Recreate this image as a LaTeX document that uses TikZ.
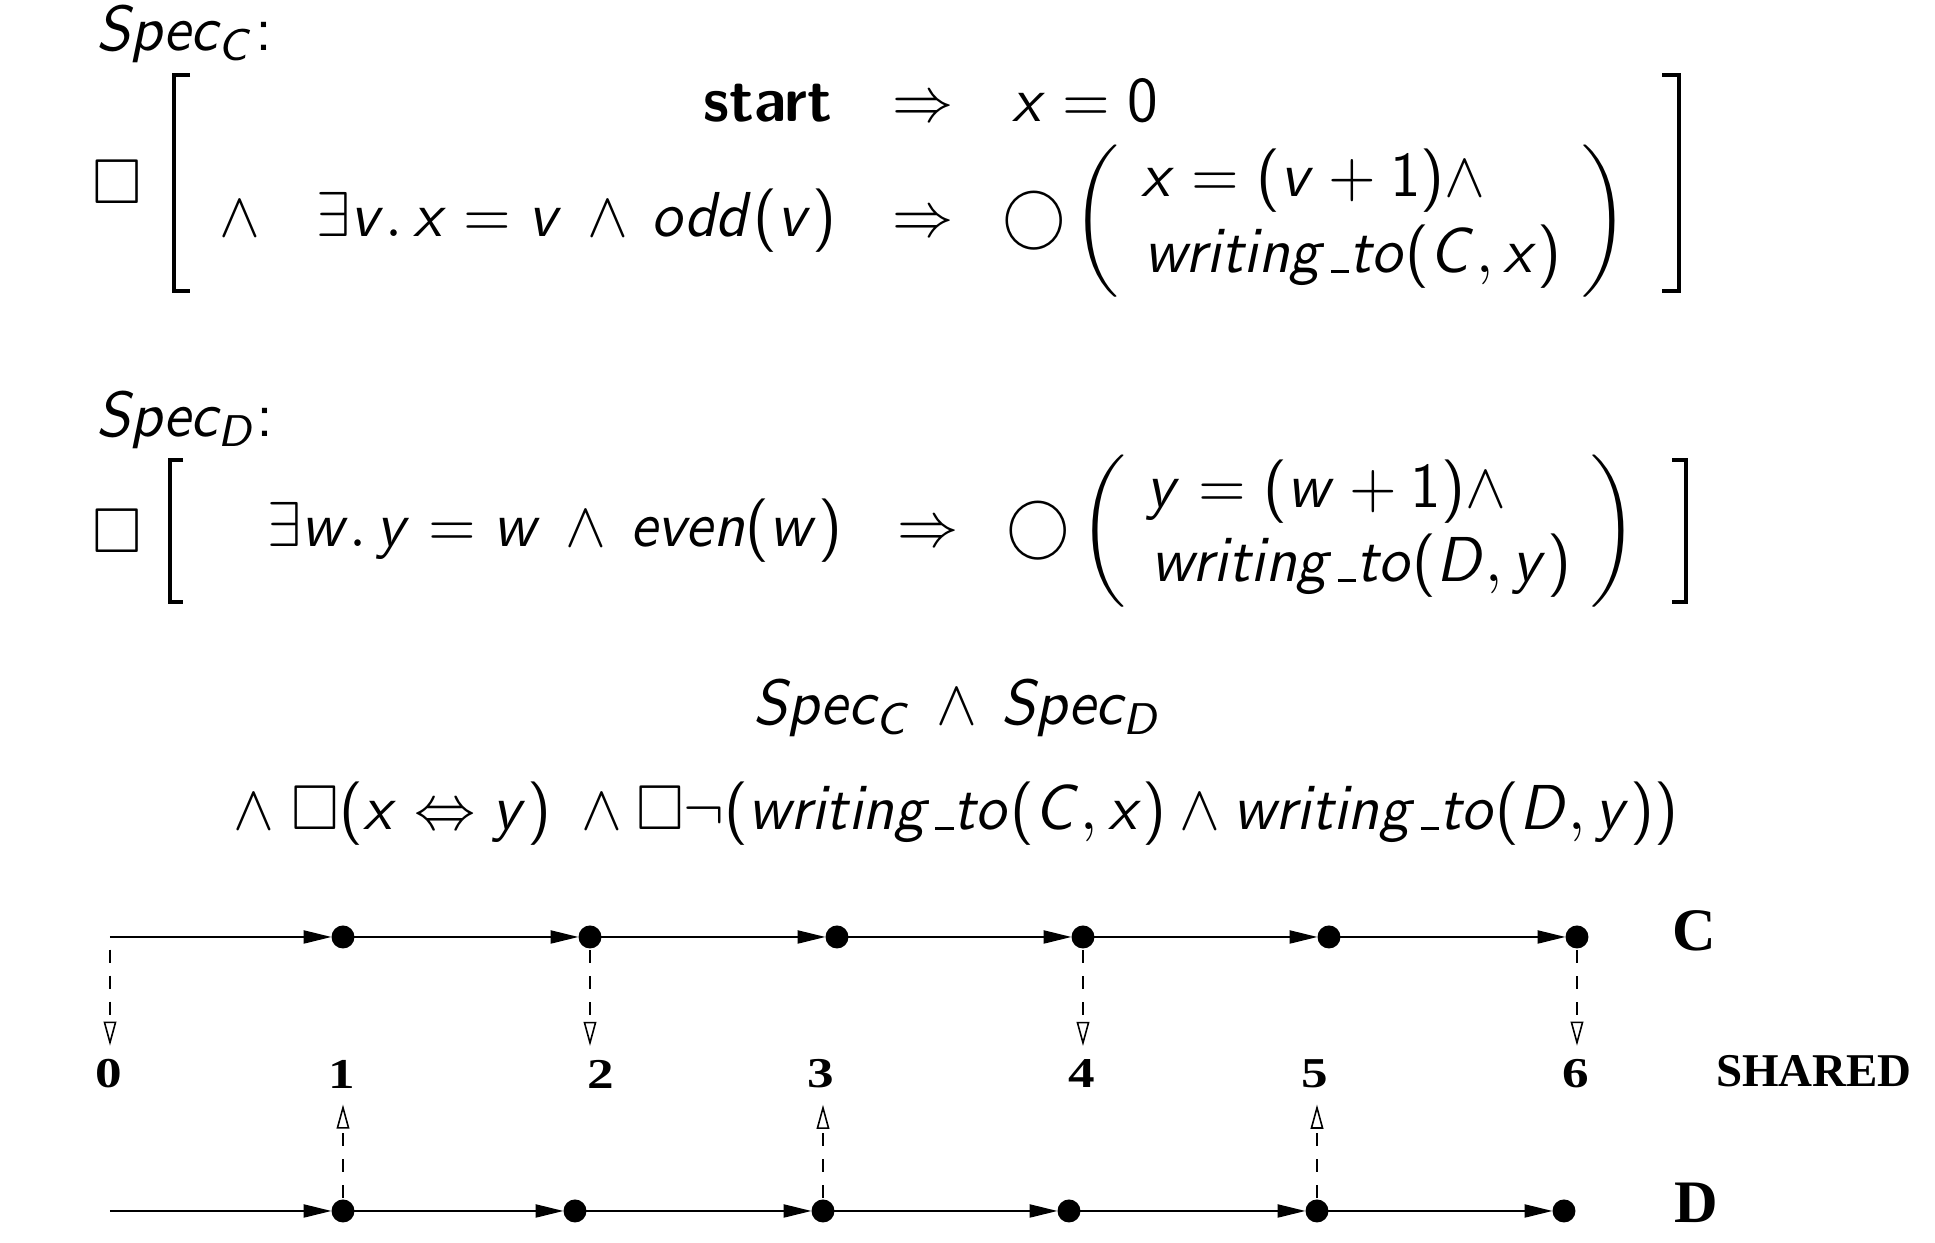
\documentclass[tikz,border=0pt]{standalone}
\usepackage{amsmath,amssymb}
\usepackage{graphicx}
\usepackage[no-math]{fontspec}
\newfontfamily\figfont{Liberation Serif}
\usetikzlibrary{arrows.meta}
% sans-serif maths, as in the reference
\SetSymbolFont{operators}{normal}{OT1}{cmss}{m}{n}
\DeclareSymbolFont{sfletters}{OT1}{cmss}{m}{sl}
\def\sfl#1{\DeclareMathSymbol{#1}{\mathalpha}{sfletters}{`#1}}
\sfl a\sfl b\sfl c\sfl d\sfl e\sfl f\sfl g\sfl h\sfl i\sfl j\sfl k\sfl l\sfl m
\sfl n\sfl o\sfl p\sfl q\sfl r\sfl s\sfl t\sfl u\sfl v\sfl w\sfl x\sfl y\sfl z
\sfl C\sfl D\sfl S
\newcommand\usc{\mbox{\kern.06em\vbox{\hrule width.3em}}}
\newcommand\wand{\,\wedge\,}
\newcommand\hs[1]{\scalebox{0.965}[1]{#1}}
\begin{document}
\begin{tikzpicture}[x=0.1575pt,y=-0.1575pt,
  every node/.style={inner sep=0pt,outer sep=0pt,font=\fontsize{10}{12}\selectfont},
  txt/.style={anchor=base west},
  txtr/.style={anchor=base east},
  txtc/.style={anchor=base},
  brk/.style={line width=0.7pt,line join=miter},
  dot/.style={circle,fill=black,minimum size=3.62pt},
  flow/.style={line width=0.32pt,-{Triangle[length=4.4pt,width=2.05pt]}},
  dasharrow/.style={line width=0.3pt,dash pattern=on 2.05pt off 2.05pt,
    -{Triangle[open,length=3.8pt,width=2pt,line width=0.25pt]}},
  lblbig/.style={font=\figfont\bfseries\fontsize{9.5}{11}\selectfont},
  lblmid/.style={font=\figfont\bfseries\fontsize{7.4}{9}\selectfont},
  num/.style={font=\figfont\bfseries\fontsize{6.7}{8}\selectfont},
]
\useasboundingbox (0,0) rectangle (1935,1243);

% ---------- Spec_C ----------
\node[txt] (specC) at (96,51) {\hs{$Spec_C$\textsf{:}}};
\node (boxC) at (117.5,182.5) {$\Box$};
\draw[brk] (190,75) -- (174,75) -- (174,291) -- (190,291);
\node[txtr] (startC) at (832,122) {\hs{\textsf{\bfseries start}}};
\node[txtc] (impC1) at (923,122) {\hs{$\Rightarrow$}};
\node[txt] (initC) at (1012,122) {\hs{$x = 0$}};
\node[txt] (andC) at (220,237) {\hs{$\wedge$}};
\node[txtr] (guardC) at (836,237) {\hs{$\exists v.\,x = v \wand odd(v)$}};
\node[txtc] (impC2) at (923,237) {\hs{$\Rightarrow$}};
\node[txtc] (nextC) at (1034,237) {$\bigcirc$};
\node[txtc] (lpC) at (1096,237) {$\biggl($};
\node[txt] (effC1) at (1141,197) {\hs{$x = (v+1) \wedge$}};
\node[txt] (effC2) at (1144,273) {\hs{$writing\usc to(C,x)$}};
\node[txtc] (rpC) at (1605,237) {$\biggr)$};
\draw[brk] (1662,75) -- (1679,75) -- (1679,291) -- (1662,291);

% ---------- Spec_D ----------
\node[txt] (specD) at (96,437) {\hs{$Spec_D$\textsf{:}}};
\node (boxD) at (117.5,531.5) {$\Box$};
\draw[brk] (183,460) -- (170,460) -- (170,602) -- (183,602);
\node[txtr] (guardD) at (842,547) {\hs{$\exists w.\,y = w \wand even(w)$}};
\node[txtc] (impD) at (928,547) {\hs{$\Rightarrow$}};
\node[txtc] (nextD) at (1038,547) {$\bigcirc$};
\node[txtc] (lpD) at (1103,547) {$\biggl($};
\node[txt] (effD1) at (1147,508) {\hs{$y = (w+1) \wedge$}};
\node[txt] (effD2) at (1151,582) {\hs{$writing\usc to(D,y)$}};
\node[txtc] (rpD) at (1614,547) {$\biggr)$};
\draw[brk] (1672,460) -- (1686,460) -- (1686,602) -- (1672,602);

% ---------- conjunction ----------
\node[txtc] (conj) at (958,725) {\hs{$Spec_C \wand Spec_D$}};
\node[txt] (constr) at (234,830) {\hs{$\wedge\;\Box(x \Leftrightarrow y) \;\wedge \Box\neg(writing\usc to(C,x) \wedge writing\usc to(D,y))$}};

% ---------- timelines ----------
\coordinate (c0) at (110,937);
\node[dot] (c1) at (343,937) {};
\node[dot] (c2) at (590,937) {};
\node[dot] (c3) at (837,937) {};
\node[dot] (c4) at (1083,937) {};
\node[dot] (c5) at (1329,937) {};
\node[dot] (c6) at (1577,937) {};
\coordinate (d0) at (110,1211);
\node[dot] (d1) at (343,1211) {};
\node[dot] (d2) at (575,1211) {};
\node[dot] (d3) at (823,1211) {};
\node[dot] (d4) at (1069,1211) {};
\node[dot] (d5) at (1317,1211) {};
\node[dot] (d6) at (1564,1211) {};

\node[num] (s0) at (109,1074) {\scalebox{1.25}[1]{0}};
\node[num] (s1) at (342,1074) {\scalebox{1.25}[1]{1}};
\node[num] (s2) at (601,1074) {\scalebox{1.25}[1]{2}};
\node[num] (s3) at (821,1074) {\scalebox{1.25}[1]{3}};
\node[num] (s4) at (1082,1074) {\scalebox{1.25}[1]{4}};
\node[num] (s5) at (1315,1074) {\scalebox{1.25}[1]{5}};
\node[num] (s6) at (1576,1074) {\scalebox{1.25}[1]{6}};

\node[lblbig] (labC) at (1694,931) {C};
\node[lblbig] (labD) at (1696,1203) {D};
\node[lblmid] (labS) at (1814,1071) {SHARED};

\foreach \a/\b in {c0/c1,c1/c2,c2/c3,c3/c4,c4/c5,c5/c6,d0/d1,d1/d2,d2/d3,d3/d4,d4/d5,d5/d6}
  \draw[flow] (\a) -- (\b);

\draw[dasharrow,shorten <=2pt,shorten >=2.2pt] (c0) -- (c0 |- s0.north);
\foreach \n in {2,4,6}
  \draw[dasharrow,shorten <=0.25pt,shorten >=2.2pt] (c\n) -- (c\n |- s\n.north);
\foreach \n in {1,3,5}
  \draw[dasharrow,shorten <=0.25pt,shorten >=2.6pt] (d\n) -- (d\n |- s\n.south);
\end{tikzpicture}
\end{document}
